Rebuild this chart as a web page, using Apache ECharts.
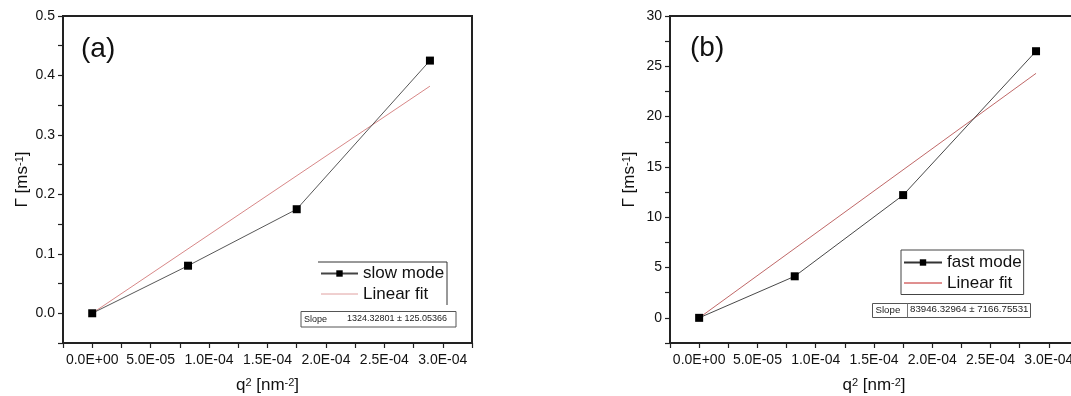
<!DOCTYPE html>
<html>
<head>
<meta charset="utf-8">
<script src="https://cdn.jsdelivr.net/npm/echarts@6/dist/echarts.min.js"></script>
<style>
html,body{margin:0;padding:0;background:#fff;}
#chart{width:1071px;height:396px;}
</style>
</head>
<body>
<div id="chart"></div>
<script>
// ---- data ----
const qSq = [0, 8.2e-5, 1.75e-4, 2.89e-4];
const slowMode = [0, 0.08, 0.175, 0.425];
const fastMode = [0, 4.13, 12.2, 26.5];
const fitX = [0, 2.89e-4];
const slowFit = [0, 0.382];
const fastFit = [0, 24.3];

// ---- ticks / labels ----
const xTickValues = [-2.5e-5, 0, 2.5e-5, 5e-5, 7.5e-5, 1e-4, 1.25e-4, 1.5e-4, 1.75e-4, 2e-4, 2.25e-4, 2.5e-4, 2.75e-4, 3e-4, 3.25e-4];
const xLabelValues = [0, 5e-5, 1e-4, 1.5e-4, 2e-4, 2.5e-4, 3e-4];
const xLabelTexts = ['0.0E+00', '5.0E-05', '1.0E-04', '1.5E-04', '2.0E-04', '2.5E-04', '3.0E-04'];
const yaTickValues = [-0.05, 0, 0.05, 0.1, 0.15, 0.2, 0.25, 0.3, 0.35, 0.4, 0.45, 0.5];
const yaLabelValues = [0, 0.1, 0.2, 0.3, 0.4, 0.5];
const yaLabelTexts = ['0.0', '0.1', '0.2', '0.3', '0.4', '0.5'];
const ybTickValues = [-2.5, 0, 2.5, 5, 7.5, 10, 12.5, 15, 17.5, 20, 22.5, 25, 27.5, 30];
const ybLabelValues = [0, 5, 10, 15, 20, 25, 30];
const ybLabelTexts = ['0', '5', '10', '15', '20', '25', '30'];

const slopeA = ['Slope', '1324.32801 \u00b1 125.05366'];
const slopeB = ['Slope', '83946.32964 \u00b1 7166.75531'];

function labelFor(values, texts) {
  return function (v) {
    for (let i = 0; i < values.length; i++) {
      if (Math.abs(values[i] - v) < Math.abs(values[1] - values[0]) * 1e-3) return texts[i];
    }
    return '';
  };
}
function pairs(xs, ys) { return xs.map((x, i) => [x, ys[i]]); }

const FONT = 'Arial, "Liberation Sans", sans-serif';
const supRich = { sup: { fontSize: 11, verticalAlign: 'top', lineHeight: 11, fontFamily: FONT, color: '#111' } };

function xAxis(gridIndex) {
  return {
    type: 'value', gridIndex, min: -2.5e-5, max: 3.25e-4,
    name: 'q{sup|2} [nm{sup|-2}]', nameLocation: 'middle', nameGap: 34,
    nameTextStyle: { fontSize: 17, fontFamily: FONT, color: '#111', rich: supRich },
    axisLine: { onZero: false, lineStyle: { color: '#222', width: 2 } },
    axisTick: { show: true, inside: false, length: 5, customValues: xTickValues, lineStyle: { color: '#222', width: 1.2 } },
    axisLabel: { customValues: xLabelValues, formatter: labelFor(xLabelValues, xLabelTexts), margin: 10, fontSize: 14, fontFamily: FONT, color: '#111' },
    splitLine: { show: false }
  };
}
function yAxis(gridIndex, min, max, ticks, lv, lt) {
  return {
    type: 'value', gridIndex, min, max,
    name: '\u0393 [ms{sup|-1}]', nameLocation: 'middle', nameGap: 32, nameRotate: 90,
    nameTextStyle: { fontSize: 17, fontFamily: FONT, color: '#111', rich: supRich },
    axisLine: { onZero: false, lineStyle: { color: '#222', width: 2 } },
    axisTick: { show: true, inside: false, length: 5, customValues: ticks, lineStyle: { color: '#222', width: 1.2 } },
    axisLabel: { customValues: lv, formatter: labelFor(lv, lt), margin: 8, fontSize: 14, fontFamily: FONT, color: '#111' },
    splitLine: { show: false }
  };
}

function slopeBox(x, y, w, h, texts, fs, valX, divX) {
  const children = [
    { type: 'rect', shape: { x: x, y: y, width: w, height: h }, style: { fill: '#fff', stroke: '#555', lineWidth: 1 } },
    { type: 'text', x: x + 3, y: y + h / 2, style: { text: texts[0], font: fs + 'px ' + FONT, fill: '#222', textVerticalAlign: 'middle' } },
    { type: 'text', x: valX, y: y + h / 2 - 1, style: { text: texts[1], font: fs + 'px ' + FONT, fill: '#222', textVerticalAlign: 'middle' } }
  ];
  if (divX) children.push({ type: 'line', shape: { x1: divX, y1: y, x2: divX, y2: y + h }, style: { stroke: '#777', lineWidth: 1 } });
  return { type: 'group', children };
}

const chart = echarts.init(document.getElementById('chart'), null, { renderer: 'canvas' });
chart.setOption({
  backgroundColor: '#fff',
  animation: false,
  title: [
    { text: '(a)', left: 81, top: 35, padding: 0, textStyle: { fontSize: 28, fontWeight: 'normal', fontFamily: FONT, color: '#111' } },
    { text: '(b)', left: 690, top: 34, padding: 0, textStyle: { fontSize: 28, fontWeight: 'normal', fontFamily: FONT, color: '#111' } }
  ],
  grid: [
    { left: 63, top: 16, width: 409, height: 327, containLabel: false, outerBoundsMode: 'none', show: true, borderColor: '#222', borderWidth: 2, backgroundColor: 'transparent' },
    { left: 670, top: 16, width: 408, height: 327, containLabel: false, outerBoundsMode: 'none', show: true, borderColor: '#222', borderWidth: 2, backgroundColor: 'transparent' }
  ],
  xAxis: [xAxis(0), xAxis(1)],
  yAxis: [
    yAxis(0, -0.05, 0.5, yaTickValues, yaLabelValues, yaLabelTexts),
    yAxis(1, -2.5, 30, ybTickValues, ybLabelValues, ybLabelTexts)
  ],
  legend: [
    {
      left: 318, top: 262, orient: 'vertical', padding: [3, 2, 3, 2], itemGap: 3.5,
      itemWidth: 37, itemHeight: 8,
      textStyle: { fontSize: 17, fontFamily: FONT, color: '#111' },
      data: ['slow mode', { name: 'Linear fit', itemStyle: { opacity: 0 }, lineStyle: { color: '#e0a0a0', width: 1 } }],
      selectedMode: false
    },
    {
      left: 901, top: 250, orient: 'vertical', padding: [4, 2, 3, 2], itemGap: 3.5,
      itemWidth: 38, itemHeight: 8,
      borderColor: '#444', borderWidth: 1, backgroundColor: '#fff',
      textStyle: { fontSize: 17, fontFamily: FONT, color: '#111' },
      data: ['fast mode', { name: 'Linear fit', itemStyle: { opacity: 0 }, lineStyle: { color: '#c02020', width: 1 } }],
      selectedMode: false
    }
  ],
  graphic: [
    { type: 'polyline', shape: { points: [[318, 262], [447, 262], [447, 305]] }, style: { stroke: '#333', lineWidth: 1, fill: null } },
    slopeBox(301, 311.5, 155, 15.5, slopeA, 9, 347, null),
    slopeBox(872.5, 303.5, 158, 14, slopeB, 9.7, 910, 907.5)
  ],
  series: [
    { name: 'Linear fit', type: 'line', xAxisIndex: 0, yAxisIndex: 0, data: pairs(fitX, slowFit), symbol: 'none', z: 1,
      lineStyle: { color: '#d88888', width: 1 }, itemStyle: { color: '#d88888' } },
    { name: 'slow mode', type: 'line', xAxisIndex: 0, yAxisIndex: 0, data: pairs(qSq, slowMode), symbol: 'rect', symbolSize: 8, z: 3,
      lineStyle: { color: '#444', width: 0.9 }, itemStyle: { color: '#000' } },
    { name: 'Linear fit', type: 'line', xAxisIndex: 1, yAxisIndex: 1, data: pairs(fitX, fastFit), symbol: 'none', z: 1,
      lineStyle: { color: '#c06868', width: 1 }, itemStyle: { color: '#c06868' } },
    { name: 'fast mode', type: 'line', xAxisIndex: 1, yAxisIndex: 1, data: pairs(qSq, fastMode), symbol: 'rect', symbolSize: 8, z: 3,
      lineStyle: { color: '#333', width: 0.9 }, itemStyle: { color: '#000' } }
  ]
});
</script>
</body>
</html>
